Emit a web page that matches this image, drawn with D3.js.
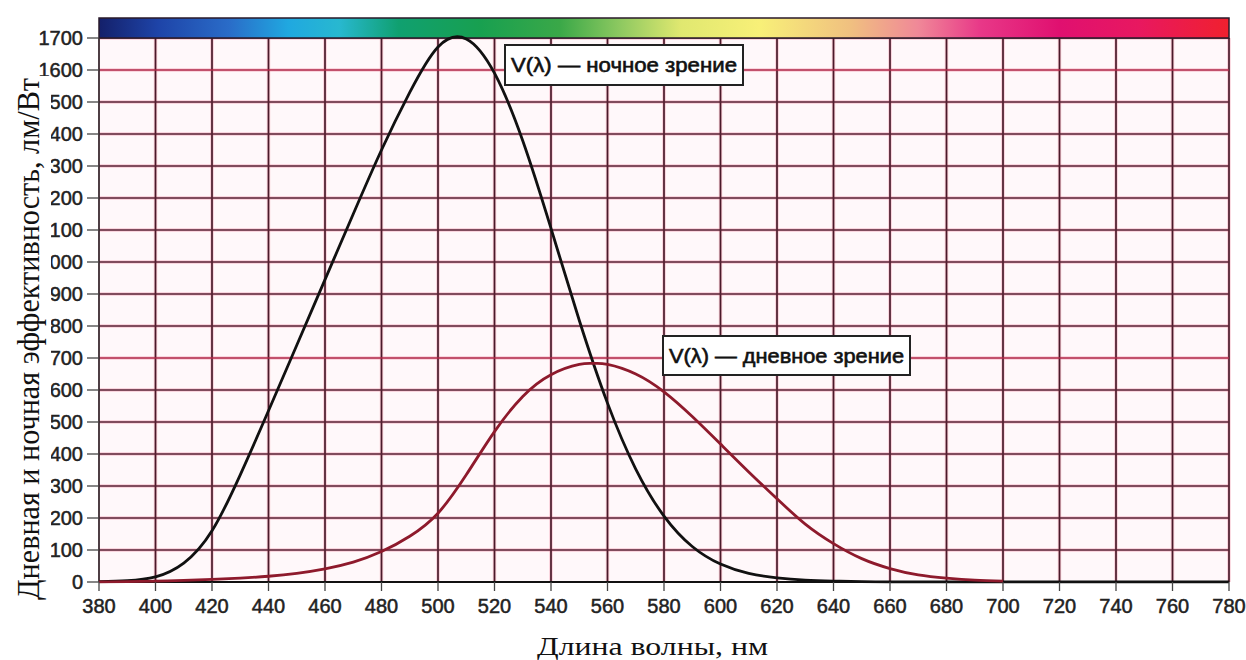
<!DOCTYPE html>
<html>
<head>
<meta charset="utf-8">
<script src="https://cdn.jsdelivr.net/npm/d3@7"></script>
<style>
    body { margin: 0; background: #fff; }
    svg { display: block; }
</style>
</head>
<body>
<div id="chart"></div>
<script>
// --- data ---
const xTicks = [380, 400, 420, 440, 460, 480, 500, 520, 540, 560, 580, 600, 620, 640, 660, 680, 700, 720, 740, 760, 780];
const yTicks = [0, 100, 200, 300, 400, 500, 600, 700, 800, 900, 1000, 1100, 1200, 1300, 1400, 1500, 1600, 1700];

// night (scotopic) curve
const nightWavelengths = [380, 390, 400, 410, 420, 430, 440, 450, 460, 470, 480, 490, 500, 510, 520, 530, 540, 550, 560, 570, 580, 590, 600, 610, 620, 630, 640, 650, 660, 680, 700, 740, 780];
const nightValues = [1, 4, 16, 59, 160, 335, 535, 740, 945, 1150, 1350, 1530, 1672, 1697, 1590, 1379, 1105, 818, 559, 353, 206, 111, 56, 27, 13, 6, 3, 1, 0, 0, 0, 0, 0];

// day (photopic) curve
const dayWavelengths = [380, 390, 400, 410, 420, 430, 440, 450, 460, 470, 480, 490, 500, 510, 520, 530, 540, 550, 555, 560, 570, 580, 590, 600, 610, 620, 630, 640, 650, 660, 670, 680, 690, 700];
const dayValues = [0, 1, 3, 5, 8, 12, 18, 27, 41, 62, 95, 143, 215, 335, 470, 580, 648, 680, 683, 680, 650, 594, 517, 431, 344, 260, 181, 120, 73, 42, 22, 12, 6, 3];

// spectrum strip along the top
const spectrumNm = [380, 401, 426, 447, 465, 486, 515, 543, 564, 586, 614, 646, 670, 692, 720, 748, 779];
const spectrumColors = ["#14206a", "#1e44a8", "#2a6cc8", "#20a8e0", "#28b8d0", "#10a070", "#18a050", "#3aa848", "#8cc860", "#e0e870", "#f8f078", "#f0c080", "#f08898", "#e83888", "#e01070", "#e81860", "#f02030"];

const nightLabel = "V(λ) — ночное зрение";
const dayLabel = "V(λ) — дневное зрение";
const xTitle = "Длина волны, нм";
const yTitle = "Дневная и ночная эффективность, лм/Вт";

/** Draws the luminous efficacy chart */
class EfficacyChart {

    constructor(){
        this.width = 1246;
        this.height = 660;
        this.margin = {top: 38, right: 17, bottom: 78, left: 99};

        this.svg = d3.select("#chart").append("svg")
            .attr("width", this.width)
            .attr("height", this.height);

        this.x = d3.scaleLinear()
            .domain([380, 780])
            .range([this.margin.left, this.width - this.margin.right]);
        this.y = d3.scaleLinear()
            .domain([0, 1700])
            .range([this.height - this.margin.bottom, this.margin.top]);

        this.sans = "'Liberation Sans', Arial, Helvetica, sans-serif";
        this.serif = "'Liberation Serif', 'Times New Roman', serif";
    }

    draw(){
        let x = this.x, y = this.y;
        let svg = this.svg;
        let defs = svg.append("defs");

        // plot background
        svg.append("rect")
            .attr("x", x(380))
            .attr("y", y(1700))
            .attr("width", x(780) - x(380))
            .attr("height", y(0) - y(1700))
            .attr("fill", "#fff8fa");

        // grid: pink halo first, dark line on top
        let vLines = xTicks.slice(1);
        let hLines = yTicks.slice(1);
        let grid = svg.append("g");
        grid.selectAll("line.vhalo").data(vLines).enter().append("line")
            .attr("x1", d => x(d)).attr("x2", d => x(d))
            .attr("y1", y(0)).attr("y2", y(1700))
            .attr("stroke", "#f08aa0").attr("stroke-width", 3.5).attr("opacity", 0.4);
        grid.selectAll("line.hhalo").data(hLines).enter().append("line")
            .attr("x1", x(380)).attr("x2", x(780))
            .attr("y1", d => y(d)).attr("y2", d => y(d))
            .attr("stroke", "#f08aa0").attr("stroke-width", 3.5).attr("opacity", 0.4);
        grid.selectAll("line.v").data(vLines).enter().append("line")
            .attr("x1", d => x(d)).attr("x2", d => x(d))
            .attr("y1", y(0)).attr("y2", y(1700))
            .attr("stroke", "#4a1a2a").attr("stroke-width", 1.7);
        grid.selectAll("line.h").data(hLines).enter().append("line")
            .attr("x1", x(380)).attr("x2", x(780))
            .attr("y1", d => y(d)).attr("y2", d => y(d))
            .attr("stroke", d => (d === 1600 || d === 700) ? "#b02848" : "#5a2234")
            .attr("stroke-width", 1.7);

        // spectrum strip
        let grad = defs.append("linearGradient")
            .attr("id", "spectrum")
            .attr("x1", "0%").attr("x2", "100%").attr("y1", "0%").attr("y2", "0%");
        grad.selectAll("stop").data(spectrumNm).enter().append("stop")
            .attr("offset", d => ((d - 380) / 400 * 100) + "%")
            .attr("stop-color", (d, i) => spectrumColors[i]);
        svg.append("rect")
            .attr("x", x(380))
            .attr("y", 18)
            .attr("width", x(780) - x(380))
            .attr("height", y(1700) - 18)
            .attr("fill", "url(#spectrum)")
            .attr("stroke", "#2a1a2a")
            .attr("stroke-width", 1.5);

        // axes lines
        svg.append("line")
            .attr("x1", x(380)).attr("x2", x(380))
            .attr("y1", y(0)).attr("y2", y(1700))
            .attr("stroke", "#3a2a30").attr("stroke-width", 1.8);
        svg.append("line")
            .attr("x1", x(380)).attr("x2", x(780))
            .attr("y1", y(0)).attr("y2", y(0))
            .attr("stroke", "#111").attr("stroke-width", 2);

        // curves, clipped so the spline never dips under the axis
        defs.append("clipPath").attr("id", "plotclip")
            .append("rect")
            .attr("x", x(380)).attr("y", 0)
            .attr("width", x(780) - x(380))
            .attr("height", y(0) + 1.5);
        let line = d3.line().curve(d3.curveNatural);
        let dayPts = dayWavelengths.map((d, i) => [x(d), y(dayValues[i])]);
        let nightPts = nightWavelengths.map((d, i) => [x(d), y(nightValues[i])]);
        let curves = svg.append("g").attr("clip-path", "url(#plotclip)");
        curves.append("path")
            .attr("d", line(nightPts))
            .attr("fill", "none")
            .attr("stroke", "#111")
            .attr("stroke-width", 2.8);
        curves.append("path")
            .attr("d", line(dayPts))
            .attr("fill", "none")
            .attr("stroke", "#8e1a2c")
            .attr("stroke-width", 2.8);

        // x ticks + labels
        let xt = svg.append("g");
        xt.selectAll("line").data(xTicks).enter().append("line")
            .attr("x1", d => x(d)).attr("x2", d => x(d))
            .attr("y1", y(0)).attr("y2", y(0) + 9)
            .attr("stroke", "#444").attr("stroke-width", 1.3);
        xt.selectAll("text").data(xTicks).enter().append("text")
            .attr("x", d => x(d))
            .attr("y", 613)
            .attr("text-anchor", "middle")
            .style("font-family", this.sans)
            .style("font-size", "20px")
            .attr("fill", "#222")
            .attr("stroke", "#222").attr("stroke-width", 0.5)
            .text(d => d);

        // y ticks + labels
        let yt = svg.append("g");
        yt.selectAll("line").data(yTicks).enter().append("line")
            .attr("x1", x(380) - 12).attr("x2", x(380))
            .attr("y1", d => y(d)).attr("y2", d => y(d))
            .attr("stroke", "#444").attr("stroke-width", 1.3);
        yt.selectAll("text").data(yTicks).enter().append("text")
            .attr("x", 83)
            .attr("y", d => y(d) + 7)
            .attr("text-anchor", "end")
            .style("font-family", this.sans)
            .style("font-size", "20px")
            .attr("fill", "#222")
            .attr("stroke", "#222").attr("stroke-width", 0.5)
            .text(d => d);

        // legend boxes
        this.labelBox(nightLabel, 505, 45, 238, 40);
        this.labelBox(dayLabel, 663, 336, 247, 39);

        // x title
        svg.append("text")
            .attr("x", 537)
            .attr("y", 655)
            .attr("textLength", 231)
            .attr("lengthAdjust", "spacingAndGlyphs")
            .style("font-family", this.serif)
            .style("font-size", "25px")
            .attr("fill", "#111")
            .text(xTitle);

        // y title sits on a white patch that hides the leading digits
        svg.append("rect")
            .attr("x", 0).attr("y", 76)
            .attr("width", 51).attr("height", 540)
            .attr("fill", "#fff");
        svg.append("text")
            .attr("transform", "translate(39,600) rotate(-90)")
            .attr("textLength", 522)
            .attr("lengthAdjust", "spacingAndGlyphs")
            .style("font-family", this.serif)
            .style("font-size", "31px")
            .attr("fill", "#111")
            .text(yTitle);
    }

    labelBox(label, bx, by, bw, bh){
        this.svg.append("rect")
            .attr("x", bx).attr("y", by)
            .attr("width", bw).attr("height", bh)
            .attr("fill", "#fff")
            .attr("stroke", "#222")
            .attr("stroke-width", 2);
        this.svg.append("text")
            .attr("x", bx + 6)
            .attr("y", by + bh / 2 + 7)
            .attr("textLength", bw - 12)
            .attr("lengthAdjust", "spacingAndGlyphs")
            .style("font-family", this.sans)
            .style("font-size", "20px")
            .attr("fill", "#111")
            .attr("stroke", "#111").attr("stroke-width", 0.6)
            .text(label);
    }
}

let chart = new EfficacyChart();
chart.draw();
</script>
</body>
</html>
